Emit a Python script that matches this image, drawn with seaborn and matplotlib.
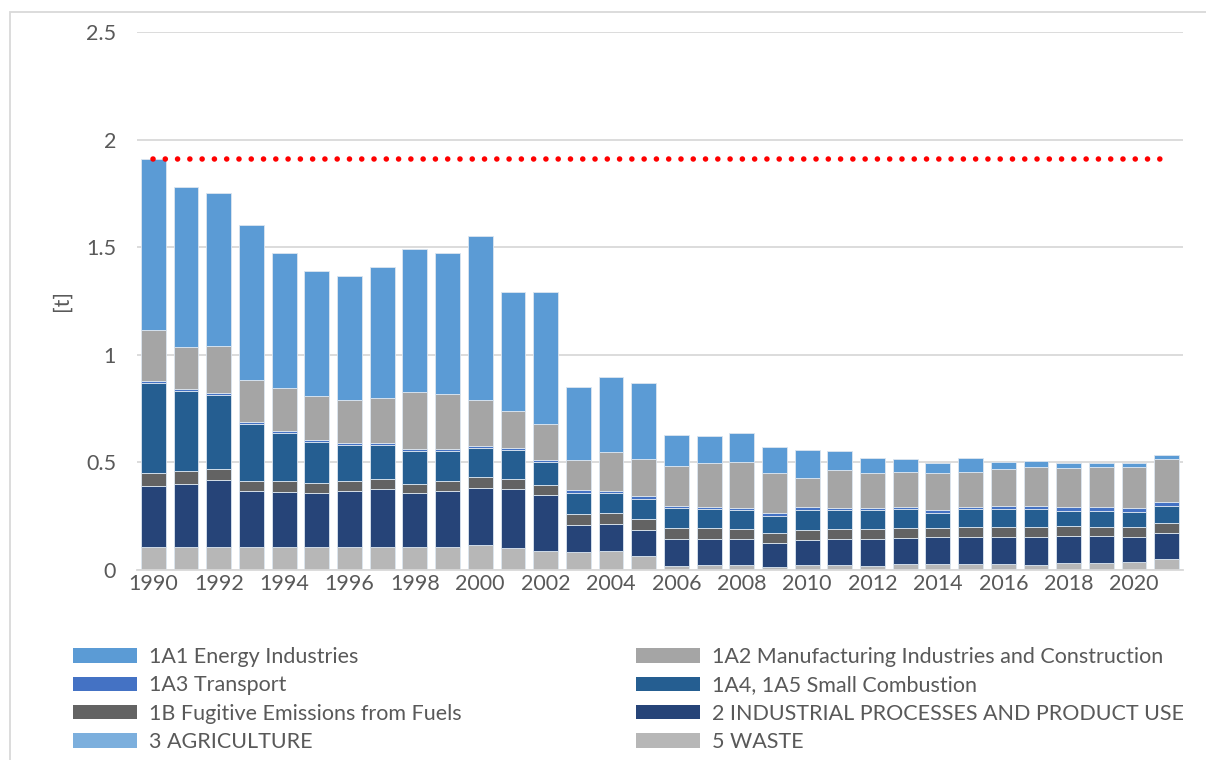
import matplotlib
matplotlib.use("Agg")
import matplotlib.pyplot as plt
import seaborn as sns
import pandas as pd
from matplotlib.patches import Patch, Rectangle

years = list(range(1990, 2022))

energy = [0.795, 0.743, 0.712, 0.719, 0.629, 0.582, 0.575, 0.609, 0.664, 0.654,
          0.763, 0.555, 0.612, 0.338, 0.348, 0.352, 0.141, 0.128, 0.132, 0.121,
          0.129, 0.091, 0.073, 0.063, 0.050, 0.062, 0.035, 0.028, 0.024, 0.020,
          0.020, 0.018]
manufacturing = [0.237, 0.195, 0.220, 0.195, 0.200, 0.203, 0.198, 0.208, 0.262, 0.256,
                 0.212, 0.170, 0.167, 0.139, 0.181, 0.172, 0.186, 0.202, 0.213, 0.183,
                 0.138, 0.173, 0.159, 0.160, 0.169, 0.163, 0.171, 0.181, 0.181, 0.188,
                 0.192, 0.201]
transport = [0.008, 0.009, 0.009, 0.008, 0.009, 0.008, 0.009, 0.011, 0.010, 0.009,
             0.009, 0.009, 0.010, 0.013, 0.010, 0.013, 0.012, 0.012, 0.013, 0.014,
             0.012, 0.013, 0.013, 0.012, 0.014, 0.012, 0.015, 0.014, 0.015, 0.017,
             0.016, 0.016]
small_comb = [0.421, 0.372, 0.344, 0.268, 0.223, 0.193, 0.171, 0.156, 0.154, 0.141,
              0.136, 0.137, 0.106, 0.100, 0.093, 0.096, 0.093, 0.087, 0.086, 0.081,
              0.095, 0.088, 0.088, 0.088, 0.069, 0.081, 0.081, 0.087, 0.072, 0.074,
              0.073, 0.079]
fugitive = [0.059, 0.058, 0.050, 0.046, 0.051, 0.047, 0.046, 0.048, 0.044, 0.046,
            0.048, 0.046, 0.050, 0.051, 0.051, 0.048, 0.051, 0.052, 0.048, 0.047,
            0.046, 0.046, 0.046, 0.047, 0.044, 0.046, 0.046, 0.046, 0.046, 0.042,
            0.046, 0.049]
ippu = [0.285, 0.296, 0.313, 0.261, 0.256, 0.251, 0.261, 0.267, 0.251, 0.261,
        0.268, 0.273, 0.260, 0.123, 0.125, 0.123, 0.123, 0.121, 0.121, 0.111,
        0.116, 0.121, 0.123, 0.121, 0.127, 0.127, 0.127, 0.129, 0.127, 0.124,
        0.115, 0.121]
agriculture = [0.0] * 32
waste = [0.105, 0.105, 0.105, 0.105, 0.105, 0.105, 0.105, 0.108, 0.105, 0.105,
         0.115, 0.102, 0.087, 0.085, 0.087, 0.064, 0.020, 0.022, 0.022, 0.013,
         0.022, 0.022, 0.020, 0.026, 0.026, 0.028, 0.028, 0.023, 0.031, 0.034,
         0.037, 0.050]

labels = {
    "energy": "1A1 Energy Industries",
    "manufacturing": "1A2 Manufacturing Industries and Construction",
    "transport": "1A3 Transport",
    "small_comb": "1A4, 1A5 Small Combustion",
    "fugitive": "1B Fugitive Emissions from Fuels",
    "ippu": "2 INDUSTRIAL PROCESSES AND PRODUCT USE",
    "agriculture": "3 AGRICULTURE",
    "waste": "5 WASTE",
}
colors = {
    "energy": "#5B9BD5",
    "manufacturing": "#A5A5A5",
    "transport": "#4472C4",
    "small_comb": "#255E91",
    "fugitive": "#636363",
    "ippu": "#264478",
    "agriculture": "#7CAFDD",
    "waste": "#B7B7B7",
}

df = pd.DataFrame({
    "year": [str(y) for y in years],
    "waste": waste, "ippu": ippu, "agriculture": agriculture, "fugitive": fugitive,
    "small_comb": small_comb, "transport": transport,
    "manufacturing": manufacturing, "energy": energy,
})
stack_order = ["waste", "ippu", "agriculture", "fugitive", "small_comb",
               "transport", "manufacturing", "energy"]

sns.set_style("white")
plt.rcParams["font.family"] = ["Lato", "DejaVu Sans"]
text_col = "#595959"
fs = 15.5

fig = plt.figure(figsize=(12.06, 7.6), dpi=100)
ax = fig.add_axes([0.1136, 0.25, 0.8674, 0.708])

bottom = pd.Series([0.0] * len(df))
for key in stack_order:
    sns.barplot(data=df, x="year", y=key, color=colors[key], bottom=bottom.values,
                width=0.76, saturation=1, edgecolor="#dce6f0", linewidth=0.6, ax=ax)
    bottom = bottom + df[key]

# reference line at 1990 level
base = bottom.iloc[0]
sns.lineplot(x=list(range(len(years))), y=[base] * len(years), color="#FF0000",
             linewidth=4, linestyle=(0, (0.01, 2.2)), dash_capstyle="round", ax=ax)

ax.set_xlim(-0.5, len(years) - 0.5)
ax.set_ylim(0, 2.5)
ax.set_yticks([0, 0.5, 1, 1.5, 2, 2.5])
ax.set_yticklabels(["0", "0.5", "1", "1.5", "2", "2.5"])
ax.set_xticks(range(0, len(years), 2))
ax.set_xticklabels([str(y) for y in years[::2]])
ax.tick_params(axis="both", length=0, labelsize=fs, labelcolor=text_col)
ax.tick_params(axis="y", pad=15)
ax.tick_params(axis="x", pad=3)
ax.set_xlabel("")
ax.set_ylabel("[t]", fontsize=fs, color=text_col, labelpad=10)
ax.grid(axis="y", color="#D9D9D9", linewidth=1.3)
ax.set_axisbelow(True)
for s in ["top", "right", "left"]:
    ax.spines[s].set_visible(False)
ax.spines["bottom"].set_color("#D9D9D9")
ax.spines["bottom"].set_linewidth(1.3)

# legend in two columns, placed separately
left_keys = ["energy", "transport", "fugitive", "agriculture"]
right_keys = ["manufacturing", "small_comb", "ippu", "waste"]
for keys, x0 in [(left_keys, 73 / 1206), (right_keys, 636 / 1206)]:
    handles = [Patch(facecolor=colors[k], edgecolor="none", label=labels[k]) for k in keys]
    fig.legend(handles=handles, loc="upper left", bbox_to_anchor=(x0, 1 - 647 / 760),
               ncol=1, frameon=False, fontsize=fs, labelcolor=text_col,
               handlelength=2.95, handleheight=0.65, handletextpad=0.6,
               labelspacing=0.39, borderaxespad=0, borderpad=0)

# chart frame
fig.patches.append(Rectangle((10 / 1206, -0.05), 1.1, 1 - 12 / 760 + 0.05,
                             transform=fig.transFigure, fill=False,
                             edgecolor="#D9D9D9", linewidth=1.3))

fig.savefig("out.png", dpi=100)
